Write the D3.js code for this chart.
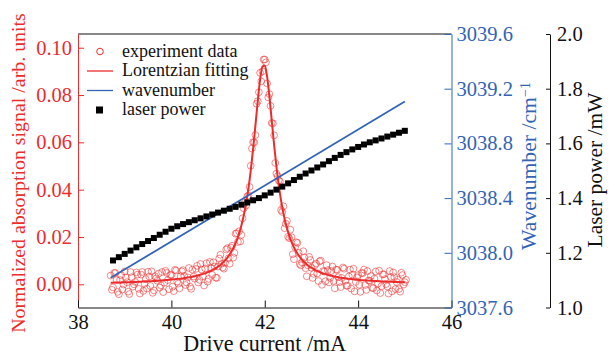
<!DOCTYPE html>
<html>
<head>
<meta charset="utf-8">
<script src="https://cdn.jsdelivr.net/npm/d3@7"></script>
<style>
  body { margin: 0; background: #fff; }
</style>
</head>
<body>
<svg id="chart" width="609" height="357"></svg>
<script>
// drive current (mA), first scan
const current = [
  38.70, 38.75, 38.80, 38.85, 38.90, 38.95, 39.00, 39.05, 39.10, 39.15,
  39.20, 39.25, 39.30, 39.35, 39.40, 39.45, 39.50, 39.55, 39.60, 39.65,
  39.70, 39.75, 39.80, 39.85, 39.90, 39.95, 40.00, 40.05, 40.10, 40.15,
  40.20, 40.25, 40.30, 40.35, 40.40, 40.45, 40.50, 40.55, 40.60, 40.65,
  40.70, 40.75, 40.80, 40.85, 40.90, 40.95, 41.00, 41.05, 41.10, 41.15,
  41.20, 41.25, 41.30, 41.35, 41.40, 41.45, 41.50, 41.55, 41.60, 41.65,
  41.70, 41.75, 41.80, 41.85, 41.90, 41.95, 42.00, 42.05, 42.10, 42.15,
  42.20, 42.25, 42.30, 42.35, 42.40, 42.45, 42.50, 42.55, 42.60, 42.65,
  42.70, 42.75, 42.80, 42.85, 42.90, 42.95, 43.00, 43.05, 43.10, 43.15,
  43.20, 43.25, 43.30, 43.35, 43.40, 43.45, 43.50, 43.55, 43.60, 43.65,
  43.70, 43.75, 43.80, 43.85, 43.90, 43.95, 44.00, 44.05, 44.10, 44.15,
  44.20, 44.25, 44.30, 44.35, 44.40, 44.45, 44.50, 44.55, 44.60, 44.65,
  44.70, 44.75, 44.80, 44.85, 44.90, 44.95, 45.00
];

// measured absorption signal, first scan
const expSignal = [
  0.0037, -0.0013, 0.0048, -0.0032, 0.0018, -0.0022, 0.0054, 0.0009, -0.0041, 0.0030,
  0.0000, 0.0050, -0.0019, 0.0041, -0.0028, 0.0022, 0.0053, -0.0007, -0.0036, 0.0034,
  0.0015, -0.0014, 0.0052, 0.0007, 0.0048, -0.0021, 0.0040, -0.0029, 0.0058, 0.0003,
  0.0034, 0.0060, -0.0003, 0.0029, -0.0010, 0.0062, 0.0024, 0.0078, 0.0019, 0.0062,
  -0.0005, 0.0089, 0.0023, 0.0068, 0.0093, 0.0028, 0.0075, 0.0125, 0.0071, 0.0091,
  0.0153, 0.0087, 0.0163, 0.0133, 0.0216, 0.0224, 0.0209, 0.0321, 0.0333, 0.0375,
  0.0501, 0.0601, 0.0631, 0.0774, 0.0894, 0.0900, 0.0950, 0.0849, 0.0804, 0.0682,
  0.0630, 0.0468, 0.0439, 0.0314, 0.0330, 0.0256, 0.0201, 0.0231, 0.0127, 0.0157,
  0.0175, 0.0086, 0.0093, 0.0113, 0.0034, 0.0116, 0.0070, 0.0044, 0.0088, 0.0014,
  0.0100, 0.0056, 0.0013, 0.0060, 0.0027, 0.0075, -0.0017, 0.0061, 0.0009, 0.0027,
  0.0066, -0.0006, 0.0033, -0.0018, 0.0066, 0.0010, 0.0039, -0.0032, 0.0047, -0.0003,
  0.0056, 0.0015, -0.0015, 0.0024, -0.0026, 0.0058, -0.0008, 0.0042, 0.0001, -0.0039,
  0.0031, 0.0050, -0.0020, 0.0020, -0.0031, 0.0039, 0.0009
];

// drive current (mA), second scan
const current2 = [
  38.725, 38.775, 38.825, 38.875, 38.925, 38.975, 39.025, 39.075, 39.125, 39.175,
  39.225, 39.275, 39.325, 39.375, 39.425, 39.475, 39.525, 39.575, 39.625, 39.675,
  39.725, 39.775, 39.825, 39.875, 39.925, 39.975, 40.025, 40.075, 40.125, 40.175,
  40.225, 40.275, 40.325, 40.375, 40.425, 40.475, 40.525, 40.575, 40.625, 40.675,
  40.725, 40.775, 40.825, 40.875, 40.925, 40.975, 41.025, 41.075, 41.125, 41.175,
  41.225, 41.275, 41.325, 41.375, 41.425, 41.475, 41.525, 41.575, 41.625, 41.675,
  41.725, 41.775, 41.825, 41.875, 41.925, 41.975, 42.025, 42.075, 42.125, 42.175,
  42.225, 42.275, 42.325, 42.375, 42.425, 42.475, 42.525, 42.575, 42.625, 42.675,
  42.725, 42.775, 42.825, 42.875, 42.925, 42.975, 43.025, 43.075, 43.125, 43.175,
  43.225, 43.275, 43.325, 43.375, 43.425, 43.475, 43.525, 43.575, 43.625, 43.675,
  43.725, 43.775, 43.825, 43.875, 43.925, 43.975, 44.025, 44.075, 44.125, 44.175,
  44.225, 44.275, 44.325, 44.375, 44.425, 44.475, 44.525, 44.575, 44.625, 44.675,
  44.725, 44.775, 44.825, 44.875, 44.925, 44.975, 45.025
];

// measured absorption signal, second scan
const expSignal2 = [
  -0.0023, 0.0048, 0.0018, -0.0042, 0.0038, -0.0001, 0.0029, -0.0031, 0.0052, -0.0010,
  0.0010, 0.0041, -0.0039, 0.0052, 0.0002, -0.0018, 0.0033, 0.0055, -0.0026, 0.0025,
  0.0045, -0.0004, -0.0033, 0.0057, 0.0018, 0.0039, -0.0010, 0.0061, 0.0012, -0.0017,
  0.0055, 0.0036, 0.0008, 0.0069, -0.0019, 0.0033, 0.0065, 0.0008, 0.0086, 0.0034,
  0.0067, 0.0011, 0.0095, 0.0040, 0.0075, 0.0027, 0.0109, 0.0087, 0.0066, 0.0147,
  0.0110, 0.0155, 0.0113, 0.0214, 0.0179, 0.0181, 0.0279, 0.0345, 0.0372, 0.0412,
  0.0574, 0.0600, 0.0763, 0.0812, 0.0858, 0.0950, 0.0938, 0.0790, 0.0754, 0.0680,
  0.0513, 0.0457, 0.0435, 0.0306, 0.0237, 0.0268, 0.0195, 0.0199, 0.0106, 0.0178,
  0.0133, 0.0080, 0.0140, 0.0068, 0.0080, 0.0103, 0.0027, 0.0081, 0.0046, 0.0097,
  -0.0002, 0.0054, 0.0081, 0.0008, 0.0056, 0.0014, 0.0062, 0.0030, -0.0012, 0.0071,
  0.0015, -0.0006, 0.0062, 0.0041, -0.0030, 0.0029, -0.0002, 0.0048, 0.0062, -0.0024,
  0.0016, 0.0035, -0.0016, 0.0054, 0.0003, -0.0037, 0.0042, 0.0022, -0.0009, 0.0056,
  -0.0030, 0.0030, 0.0010, -0.0020, 0.0049, -0.0001, 0.0019
];

// Lorentzian fit, read at the first-scan currents
const fitSignal = [
  0.0007, 0.0007, 0.0008, 0.0008, 0.0008, 0.0008, 0.0009, 0.0009, 0.0009, 0.0010,
  0.0010, 0.0010, 0.0011, 0.0011, 0.0012, 0.0012, 0.0013, 0.0013, 0.0014, 0.0014,
  0.0015, 0.0016, 0.0016, 0.0017, 0.0018, 0.0019, 0.0020, 0.0021, 0.0022, 0.0023,
  0.0024, 0.0025, 0.0027, 0.0029, 0.0030, 0.0032, 0.0034, 0.0037, 0.0039, 0.0042,
  0.0045, 0.0049, 0.0053, 0.0058, 0.0063, 0.0068, 0.0075, 0.0082, 0.0091, 0.0101,
  0.0113, 0.0127, 0.0143, 0.0163, 0.0186, 0.0214, 0.0249, 0.0291, 0.0343, 0.0405,
  0.0481, 0.0571, 0.0671, 0.0774, 0.0864, 0.0920, 0.0925, 0.0879, 0.0794, 0.0692,
  0.0590, 0.0498, 0.0419, 0.0354, 0.0300, 0.0256, 0.0221, 0.0191, 0.0167, 0.0147,
  0.0130, 0.0116, 0.0103, 0.0093, 0.0084, 0.0076, 0.0070, 0.0064, 0.0058, 0.0054,
  0.0050, 0.0046, 0.0043, 0.0040, 0.0037, 0.0035, 0.0033, 0.0031, 0.0029, 0.0027,
  0.0026, 0.0024, 0.0023, 0.0022, 0.0021, 0.0020, 0.0019, 0.0018, 0.0017, 0.0017,
  0.0016, 0.0015, 0.0015, 0.0014, 0.0014, 0.0013, 0.0012, 0.0012, 0.0011, 0.0011,
  0.0011, 0.0010, 0.0010, 0.0010, 0.0009, 0.0009, 0.0009
];

// wavenumber tuning (straight line)
const waveCurrent = [38.7, 45.0];
const wavenumber = [3037.817, 3039.106];

// laser output power (mW)
const powerCurrent = [
  38.750, 38.875, 39.000, 39.125, 39.250, 39.375, 39.500, 39.625, 39.750, 39.875,
  40.000, 40.125, 40.250, 40.375, 40.500, 40.625, 40.750, 40.875, 41.000, 41.125,
  41.250, 41.375, 41.500, 41.625, 41.750, 41.875, 42.000, 42.125, 42.250, 42.375,
  42.500, 42.625, 42.750, 42.875, 43.000, 43.125, 43.250, 43.375, 43.500, 43.625,
  43.750, 43.875, 44.000, 44.125, 44.250, 44.375, 44.500, 44.625, 44.750, 44.875,
  45.000
];
const laserPower = [
  1.172, 1.184, 1.196, 1.208, 1.220, 1.232, 1.243, 1.254, 1.266, 1.277,
  1.288, 1.297, 1.305, 1.312, 1.319, 1.326, 1.333, 1.340, 1.347, 1.354,
  1.361, 1.368, 1.376, 1.384, 1.392, 1.400, 1.410, 1.420, 1.431, 1.442,
  1.454, 1.466, 1.478, 1.490, 1.501, 1.512, 1.523, 1.535, 1.547, 1.558,
  1.568, 1.578, 1.587, 1.596, 1.604, 1.611, 1.618, 1.625, 1.632, 1.639,
  1.646
];

const xTicks = [38, 40, 42, 44, 46];
const signalTicks = [0.00, 0.02, 0.04, 0.06, 0.08, 0.10];
const waveTicks = [3037.6, 3038.0, 3038.4, 3038.8, 3039.2, 3039.6];
const powerTicks = [1.0, 1.2, 1.4, 1.6, 1.8, 2.0];

const legendItems = ['experiment data', 'Lorentzian fitting', 'wavenumber', 'laser power'];

const RED = '#ee2b2b';
const BLUE = '#3264b6';
const INK = '#111';
const SERIF = '"Liberation Serif", "Times New Roman", serif';
const TICK_FONT = '20.5px';

const svg = d3.select('#chart');
const plot = { left: 78, right: 451.5, top: 34, bottom: 307.5 };

const x = d3.scaleLinear().domain([38, 46]).range([plot.left, plot.right]);
const ySig = d3.scaleLinear().domain([-0.0098, 0.1058]).range([plot.bottom, plot.top]);
const yWave = d3.scaleLinear().domain([3037.6, 3039.6]).range([plot.bottom, plot.top]);
const yPow = d3.scaleLinear().domain([1.0, 2.0]).range([plot.bottom, plot.top]);

// scale a text's font size so that it spans the given width
function fitWidth(sel, target) {
  const w = sel.node().getComputedTextLength();
  const fs = parseFloat(sel.style('font-size'));
  sel.style('font-size', (fs * target / w) + 'px');
}

// top frame
svg.append('line')
  .attr('x1', plot.left).attr('x2', plot.right)
  .attr('y1', plot.top).attr('y2', plot.top)
  .attr('stroke', INK).attr('stroke-width', 1);

// experiment data circles, both scans
const scans = [[current, expSignal], [current2, expSignal2]];
scans.forEach(([xs, ys]) => {
  svg.append('g')
    .selectAll('circle')
    .data(xs)
    .enter()
    .append('circle')
    .attr('cx', (d) => x(d))
    .attr('cy', (d, i) => ySig(ys[i]))
    .attr('r', 3.4)
    .attr('fill', 'none')
    .attr('stroke', RED)
    .attr('stroke-opacity', 0.7)
    .attr('stroke-width', 0.8);
});

// Lorentzian fit
const fitLine = d3.line()
  .x((d) => x(d))
  .y((d, i) => ySig(fitSignal[i]))
  .curve(d3.curveMonotoneX);
svg.append('path')
  .attr('d', fitLine(current))
  .attr('fill', 'none')
  .attr('stroke', RED)
  .attr('stroke-width', 2);

// wavenumber line
const waveLine = d3.line()
  .x((d) => x(d))
  .y((d, i) => yWave(wavenumber[i]));
svg.append('path')
  .attr('d', waveLine(waveCurrent))
  .attr('fill', 'none')
  .attr('stroke', BLUE)
  .attr('stroke-width', 1.8);

// laser power squares
svg.append('g')
  .selectAll('rect')
  .data(powerCurrent)
  .enter()
  .append('rect')
  .attr('x', (d) => x(d) - 3)
  .attr('y', (d, i) => yPow(laserPower[i]) - 3)
  .attr('width', 6)
  .attr('height', 6)
  .attr('fill', '#000');

// axes
const fmt2 = d3.format('.2f');
const fmt1 = d3.format('.1f');

function styleAxis(g, color) {
  g.attr('font-family', SERIF);
  g.select('.domain').attr('stroke', color);
  g.selectAll('line').attr('stroke', color);
  g.selectAll('text')
    .attr('fill', color)
    .style('font-family', SERIF)
    .style('font-size', TICK_FONT);
}

const axisSig = svg.append('g')
  .attr('transform', `translate(${plot.left},0)`)
  .call(d3.axisLeft(ySig).tickValues(signalTicks).tickFormat(fmt2)
    .tickSizeInner(-6).tickSizeOuter(0).tickPadding(6));
styleAxis(axisSig, RED);

const axisX = svg.append('g')
  .attr('transform', `translate(0,${plot.bottom})`)
  .call(d3.axisBottom(x).tickValues(xTicks).tickFormat(d3.format('d'))
    .tickSizeInner(-7).tickSizeOuter(0).tickPadding(7));
styleAxis(axisX, INK);

const axisWave = svg.append('g')
  .attr('transform', `translate(${plot.right},0)`)
  .call(d3.axisRight(yWave).tickValues(waveTicks).tickFormat(fmt1)
    .tickSizeInner(-7).tickSizeOuter(0).tickPadding(5));
styleAxis(axisWave, BLUE);

const axisPow = svg.append('g')
  .attr('transform', 'translate(550,0)')
  .call(d3.axisRight(yPow).tickValues(powerTicks).tickFormat(fmt1)
    .tickSizeInner(-4).tickSizeOuter(0).tickPadding(7));
styleAxis(axisPow, INK);

// axis titles
const xTitle = svg.append('text')
  .attr('x', (plot.left + plot.right) / 2)
  .attr('y', 351)
  .attr('text-anchor', 'middle')
  .attr('fill', INK)
  .style('font-family', SERIF)
  .style('font-size', '21px')
  .text('Drive current /mA');
fitWidth(xTitle, 163);

const sigTitle = svg.append('text')
  .attr('transform', 'translate(25,173) rotate(-90)')
  .attr('text-anchor', 'middle')
  .attr('fill', RED)
  .style('font-family', SERIF)
  .style('font-size', '20px')
  .text('Normalized absorption signal /arb. units');
fitWidth(sigTitle, 320);

const waveTitle = svg.append('text')
  .attr('transform', 'translate(536,166) rotate(-90)')
  .attr('text-anchor', 'middle')
  .attr('fill', BLUE)
  .style('font-family', SERIF)
  .style('font-size', '21px');
waveTitle.append('tspan').text('Wavenumber /cm');
waveTitle.append('tspan').attr('dy', '-0.45em').style('font-size', '0.65em').text('\u22121');
fitWidth(waveTitle, 168);

const powTitle = svg.append('text')
  .attr('transform', 'translate(602,170) rotate(-90)')
  .attr('text-anchor', 'middle')
  .attr('fill', INK)
  .style('font-family', SERIF)
  .style('font-size', '21px')
  .text('Laser power /mW');
fitWidth(powTitle, 155);

// legend
const legend = svg.append('g');
const rowY = (i) => 51.5 + i * 19.5;
legend.append('circle')
  .attr('cx', 100).attr('cy', rowY(0)).attr('r', 3.3)
  .attr('fill', 'none').attr('stroke', RED).attr('stroke-width', 1);
legend.append('line')
  .attr('x1', 87).attr('x2', 113).attr('y1', rowY(1)).attr('y2', rowY(1))
  .attr('stroke', RED).attr('stroke-width', 1.3);
legend.append('line')
  .attr('x1', 87).attr('x2', 113).attr('y1', rowY(2)).attr('y2', rowY(2))
  .attr('stroke', BLUE).attr('stroke-width', 1.3);
legend.append('rect')
  .attr('x', 96).attr('y', rowY(3) - 3.5).attr('width', 7).attr('height', 7)
  .attr('fill', '#000');
legend.selectAll('text.item')
  .data(legendItems)
  .enter()
  .append('text')
  .attr('class', 'item')
  .attr('x', 122)
  .attr('y', (d, i) => rowY(i))
  .attr('dy', '0.28em')
  .attr('fill', INK)
  .style('font-family', SERIF)
  .style('font-size', '18px')
  .text((d) => d);
</script>
</body>
</html>
